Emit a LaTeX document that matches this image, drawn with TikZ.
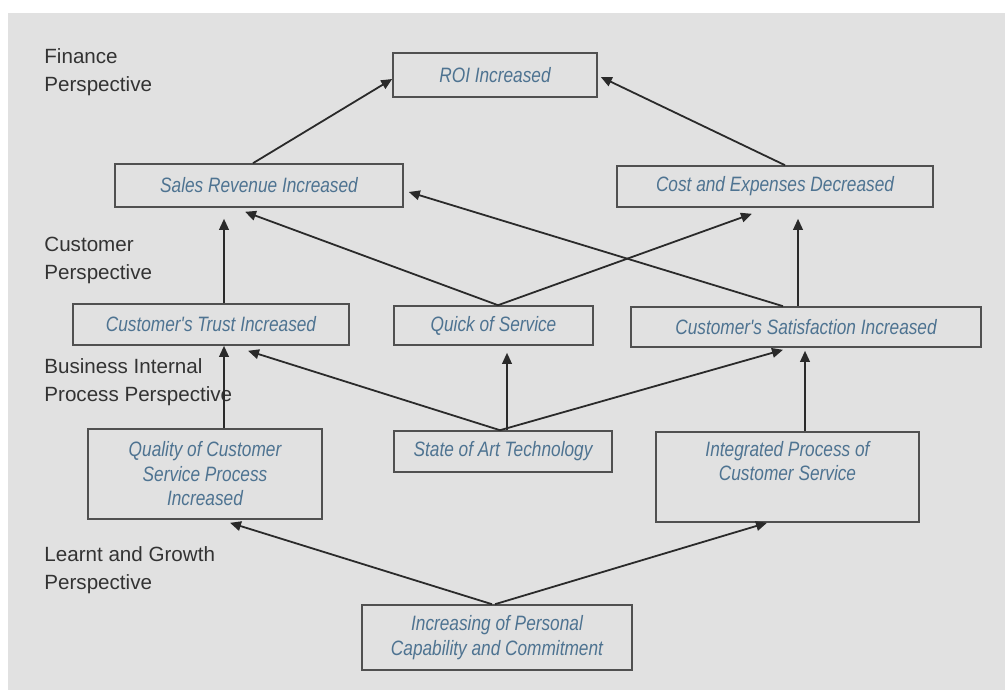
\documentclass[tikz,border=0pt]{standalone}
\usepackage{fontspec}
\setmainfont{Liberation Sans}
\newfontfamily\boxfont[FakeStretch=0.83]{Liberation Sans}
\usetikzlibrary{arrows.meta}
\definecolor{bggray}{HTML}{E1E1E1}
\definecolor{boxline}{HTML}{505050}
\definecolor{boxtext}{HTML}{4E7391}
\definecolor{labeltext}{HTML}{333333}
\definecolor{arrline}{HTML}{2A2A2A}
\tikzset{
  box/.style={draw=boxline, line width=0.8pt, inner sep=0pt, align=center,
    text=boxtext, font=\boxfont\itshape\fontsize{10.4pt}{12.25pt}\selectfont},
  persp/.style={anchor=north west, inner sep=0pt, align=left, text=labeltext,
    font=\fontsize{10.3pt}{14pt}\selectfont},
  arr/.style={draw=arrline, line width=0.9pt, -{Triangle[length=5.5pt,width=4.8pt]}}
}
\begin{document}
\begin{tikzpicture}[x=0.5pt,y=-0.5pt]
\useasboundingbox (0,0) rectangle (1005,690);
\fill[white] (0,0) rectangle (1005,690);
\fill[bggray] (8,13) rectangle (1005,690);

% perspective labels
\node[persp] (lfin) at (44,48) {Finance\\Perspective};
\node[persp] (lcus) at (44,237) {Customer\\Perspective};
\node[persp] (lbus) at (44,358) {Business Internal\\Process Perspective};
\node[persp] (llea) at (44,546) {Learnt and Growth\\Perspective};

% boxes
\node[box, minimum width=102pt, minimum height=22pt] (roi) at (495,75) {ROI Increased};
\node[box, minimum width=144pt, minimum height=21.5pt] (sales) at (259,185.5) {Sales Revenue Increased};
\node[box, minimum width=158pt, minimum height=20.5pt] (cost) at (775,186.5) {Cost and Expenses Decreased};
\node[box, minimum width=138pt, minimum height=20.5pt] (trust) at (211,324.5) {Customer's Trust Increased};
\node[box, minimum width=99.5pt, minimum height=19.5pt] (quick) at (493.5,325.5) {Quick of Service};
\node[box, minimum width=175pt, minimum height=20pt] (satis) at (806,327) {Customer's Satisfaction Increased};
\node[box, minimum width=117pt, minimum height=45pt] (quality) at (205,474) {Quality of Customer\\Service Process\\Increased};
\node[box, minimum width=109pt, minimum height=20.5pt] (state) at (503,451.5) {State of Art Technology};
\node[box, minimum width=131.5pt, minimum height=45pt] (integ) at (787.5,477) {Integrated Process of\\Customer Service\\\strut};
\node[box, minimum width=135pt, minimum height=32.5pt] (incr) at (497,637.5) {Increasing of Personal\\Capability and Commitment};

% connectors
\draw[arr] ([xshift=-3pt]sales.north) -- ([yshift=-2pt]roi.west);
\draw[arr] ([xshift=5pt]cost.north) -- ([xshift=1.5pt,yshift=-1pt]roi.east);
\draw[arr] ([xshift=6.5pt]trust.north) -- ([xshift=-17.5pt,yshift=-5.5pt]sales.south);
\draw[arr] ([xshift=2.25pt]quick.north) -- ([xshift=-7pt,yshift=-2pt]sales.south);
\draw[arr] ([xshift=2.25pt]quick.north) -- ([xshift=-11.5pt,yshift=-3pt]cost.south);
\draw[arr] ([xshift=-11.5pt]satis.north) -- ([xshift=2.5pt,yshift=-3.25pt]sales.east);
\draw[arr] ([xshift=-4pt]satis.north) -- ([xshift=11.5pt,yshift=-5.5pt]cost.south);
\draw[arr] ([xshift=9.5pt]quality.north) -- ([xshift=6.5pt]trust.south);
\draw[arr] ([xshift=-1.5pt]state.north) -- ([xshift=18.5pt,yshift=-2.5pt]trust.south);
\draw[arr] ([xshift=2pt]state.north) -- ([xshift=6.75pt,yshift=-3.5pt]quick.south);
\draw[arr] ([xshift=-1.5pt]state.north) -- ([xshift=-11.5pt,yshift=-1pt]satis.south);
\draw[arr] ([xshift=8.75pt]integ.north) -- ([xshift=-0.5pt,yshift=-1.5pt]satis.south);
\draw[arr] ([xshift=-2.5pt]incr.north) -- ([xshift=12.5pt,yshift=-1.5pt]quality.south);
\draw[arr] ([xshift=-1pt]incr.north) -- ([xshift=-10.25pt]integ.south);
\end{tikzpicture}
\end{document}
